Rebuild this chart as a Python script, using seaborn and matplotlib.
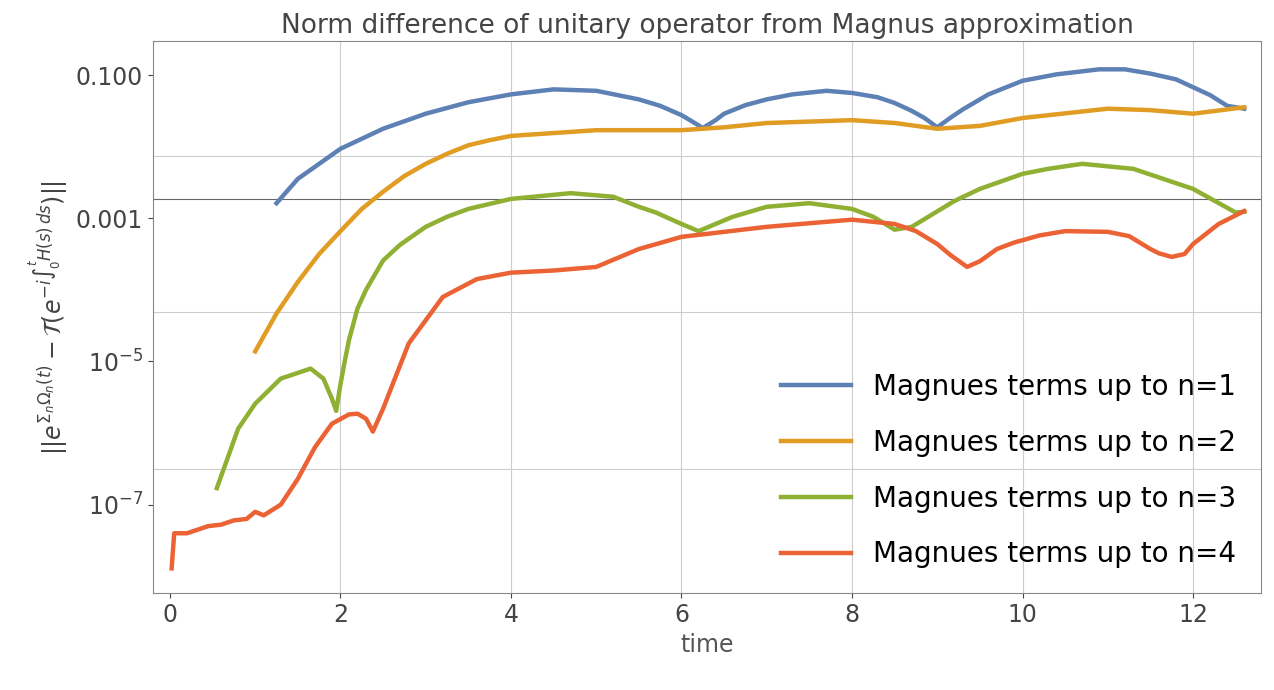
import numpy as np
import pandas as pd
import matplotlib
matplotlib.use("Agg")
import matplotlib.pyplot as plt
import seaborn as sns

# log10 of norm difference
t1 = [1.25, 1.5, 2, 2.5, 3, 3.5, 4, 4.5, 5, 5.5, 5.75, 6, 6.1, 6.25, 6.4, 6.5, 6.75, 7, 7.3, 7.7, 8.0, 8.3, 8.5, 8.7, 8.85, 9.0, 9.15, 9.3, 9.6, 10, 10.4, 10.9, 11.2, 11.5, 11.8, 12, 12.2, 12.4, 12.6]
l1 = [-2.79, -2.45, -2.03, -1.75, -1.54, -1.38, -1.27, -1.2, -1.22, -1.34, -1.43, -1.56, -1.63, -1.74, -1.63, -1.54, -1.42, -1.34, -1.27, -1.22, -1.25, -1.31, -1.39, -1.5, -1.6, -1.73, -1.6, -1.48, -1.27, -1.08, -0.99, -0.92, -0.92, -0.98, -1.06, -1.17, -1.28, -1.43, -1.47]
t2 = [1.0, 1.25, 1.5, 1.75, 2, 2.25, 2.5, 2.75, 3, 3.25, 3.5, 3.75, 4, 5, 6, 6.5, 7, 8, 8.5, 9, 9.5, 10, 11, 11.5, 12, 12.6]
l2 = [-4.86, -4.33, -3.89, -3.5, -3.18, -2.87, -2.63, -2.41, -2.24, -2.1, -1.98, -1.91, -1.85, -1.77, -1.77, -1.73, -1.67, -1.63, -1.67, -1.75, -1.71, -1.6, -1.47, -1.49, -1.54, -1.45]
t3 = [0.55, 0.8, 1.0, 1.3, 1.65, 1.8, 1.9, 1.95, 2.0, 2.05, 2.1, 2.2, 2.3, 2.5, 2.7, 3, 3.25, 3.5, 3.75, 4, 4.7, 5.2, 5.5, 5.7, 6.0, 6.2, 6.6, 7, 7.5, 8, 8.25, 8.5, 8.7, 9.2, 9.5, 10, 10.3, 10.7, 11.3, 12, 12.5, 12.6]
l3 = [-6.77, -5.94, -5.59, -5.24, -5.1, -5.24, -5.52, -5.69, -5.32, -5.0, -4.7, -4.26, -4.0, -3.59, -3.37, -3.12, -2.98, -2.87, -2.8, -2.73, -2.65, -2.7, -2.84, -2.92, -3.08, -3.18, -2.98, -2.84, -2.79, -2.87, -2.98, -3.16, -3.12, -2.76, -2.59, -2.38, -2.31, -2.24, -2.31, -2.59, -2.92, -2.91]
t4 = [0.02, 0.05, 0.2, 0.3, 0.45, 0.6, 0.75, 0.9, 1.0, 1.1, 1.3, 1.5, 1.7, 1.9, 2.1, 2.2, 2.3, 2.38, 2.5, 2.8, 3.2, 3.6, 4, 4.5, 5, 5.5, 6, 7, 8, 8.5, 8.75, 9, 9.15, 9.35, 9.5, 9.7, 9.9, 10.2, 10.5, 11, 11.25, 11.5, 11.6, 11.75, 11.9, 12, 12.3, 12.6]
l4 = [-7.89, -7.4, -7.4, -7.36, -7.3, -7.28, -7.22, -7.2, -7.1, -7.15, -7.0, -6.64, -6.2, -5.87, -5.74, -5.73, -5.8, -5.98, -5.66, -4.75, -4.1, -3.85, -3.76, -3.73, -3.68, -3.43, -3.26, -3.12, -3.02, -3.08, -3.18, -3.36, -3.51, -3.68, -3.6, -3.43, -3.34, -3.24, -3.18, -3.19, -3.25, -3.43, -3.49, -3.54, -3.5, -3.36, -3.08, -2.9]

labels = ["Magnues terms up to n=%d" % n for n in range(1, 5)]
colors = ["#5E81B5", "#E19C24", "#8FB032", "#EB6235"]

frames = []
for t, l, lab in zip([t1, t2, t3, t4], [l1, l2, l3, l4], labels):
    frames.append(pd.DataFrame({"time": t, "norm": 10 ** np.array(l), "series": lab}))
df = pd.concat(frames)

fig, ax = plt.subplots(figsize=(12.74, 6.9), dpi=100)
sns.lineplot(data=df, x="time", y="norm", hue="series", palette=colors, linewidth=3.2, ax=ax, sort=False)
ax.set_yscale("log")
ax.set_xlim(-0.2, 12.8)
ax.set_ylim(10 ** -8.24, 10 ** -0.53)
ax.set_xticks([0, 2, 4, 6, 8, 10, 12])
ax.set_yticks([1e-7, 1e-5, 1e-3, 1e-1])
ax.set_yticklabels([r"$10^{-7}$", r"$10^{-5}$", "0.001", "0.100"])
ax.minorticks_off()
ax.grid(False)
for x in [2, 4, 6, 8, 10, 12]:
    ax.axvline(x, color="#cccccc", lw=0.8, zorder=0)
for ly in [-2.13, -4.31, -6.5]:
    ax.axhline(10 ** ly, color="#cccccc", lw=0.8, zorder=0)
ax.axhline(10 ** -2.73, color="#666666", lw=0.8, zorder=0)
ax.tick_params(labelsize=17, colors="#444444")
for s in ax.spines.values():
    s.set_color("#888888")
ax.set_xlabel("time", fontsize=17, color="#555555")
ax.set_ylabel(r"$||e^{\Sigma_n\Omega_n(t)} - \mathcal{T}(e^{-i\int_0^t H(s)\,ds})||$", fontsize=17, color="#444444")
ax.set_title("Norm difference of unitary operator from Magnus approximation", fontsize=19, color="#444444")
ax.legend(title=None, loc="lower right", fontsize=20, frameon=False, handlelength=2.5, labelspacing=1.0)
fig.subplots_adjust(left=0.12, right=0.99, top=0.94, bottom=0.14)
fig.savefig("out.png")
